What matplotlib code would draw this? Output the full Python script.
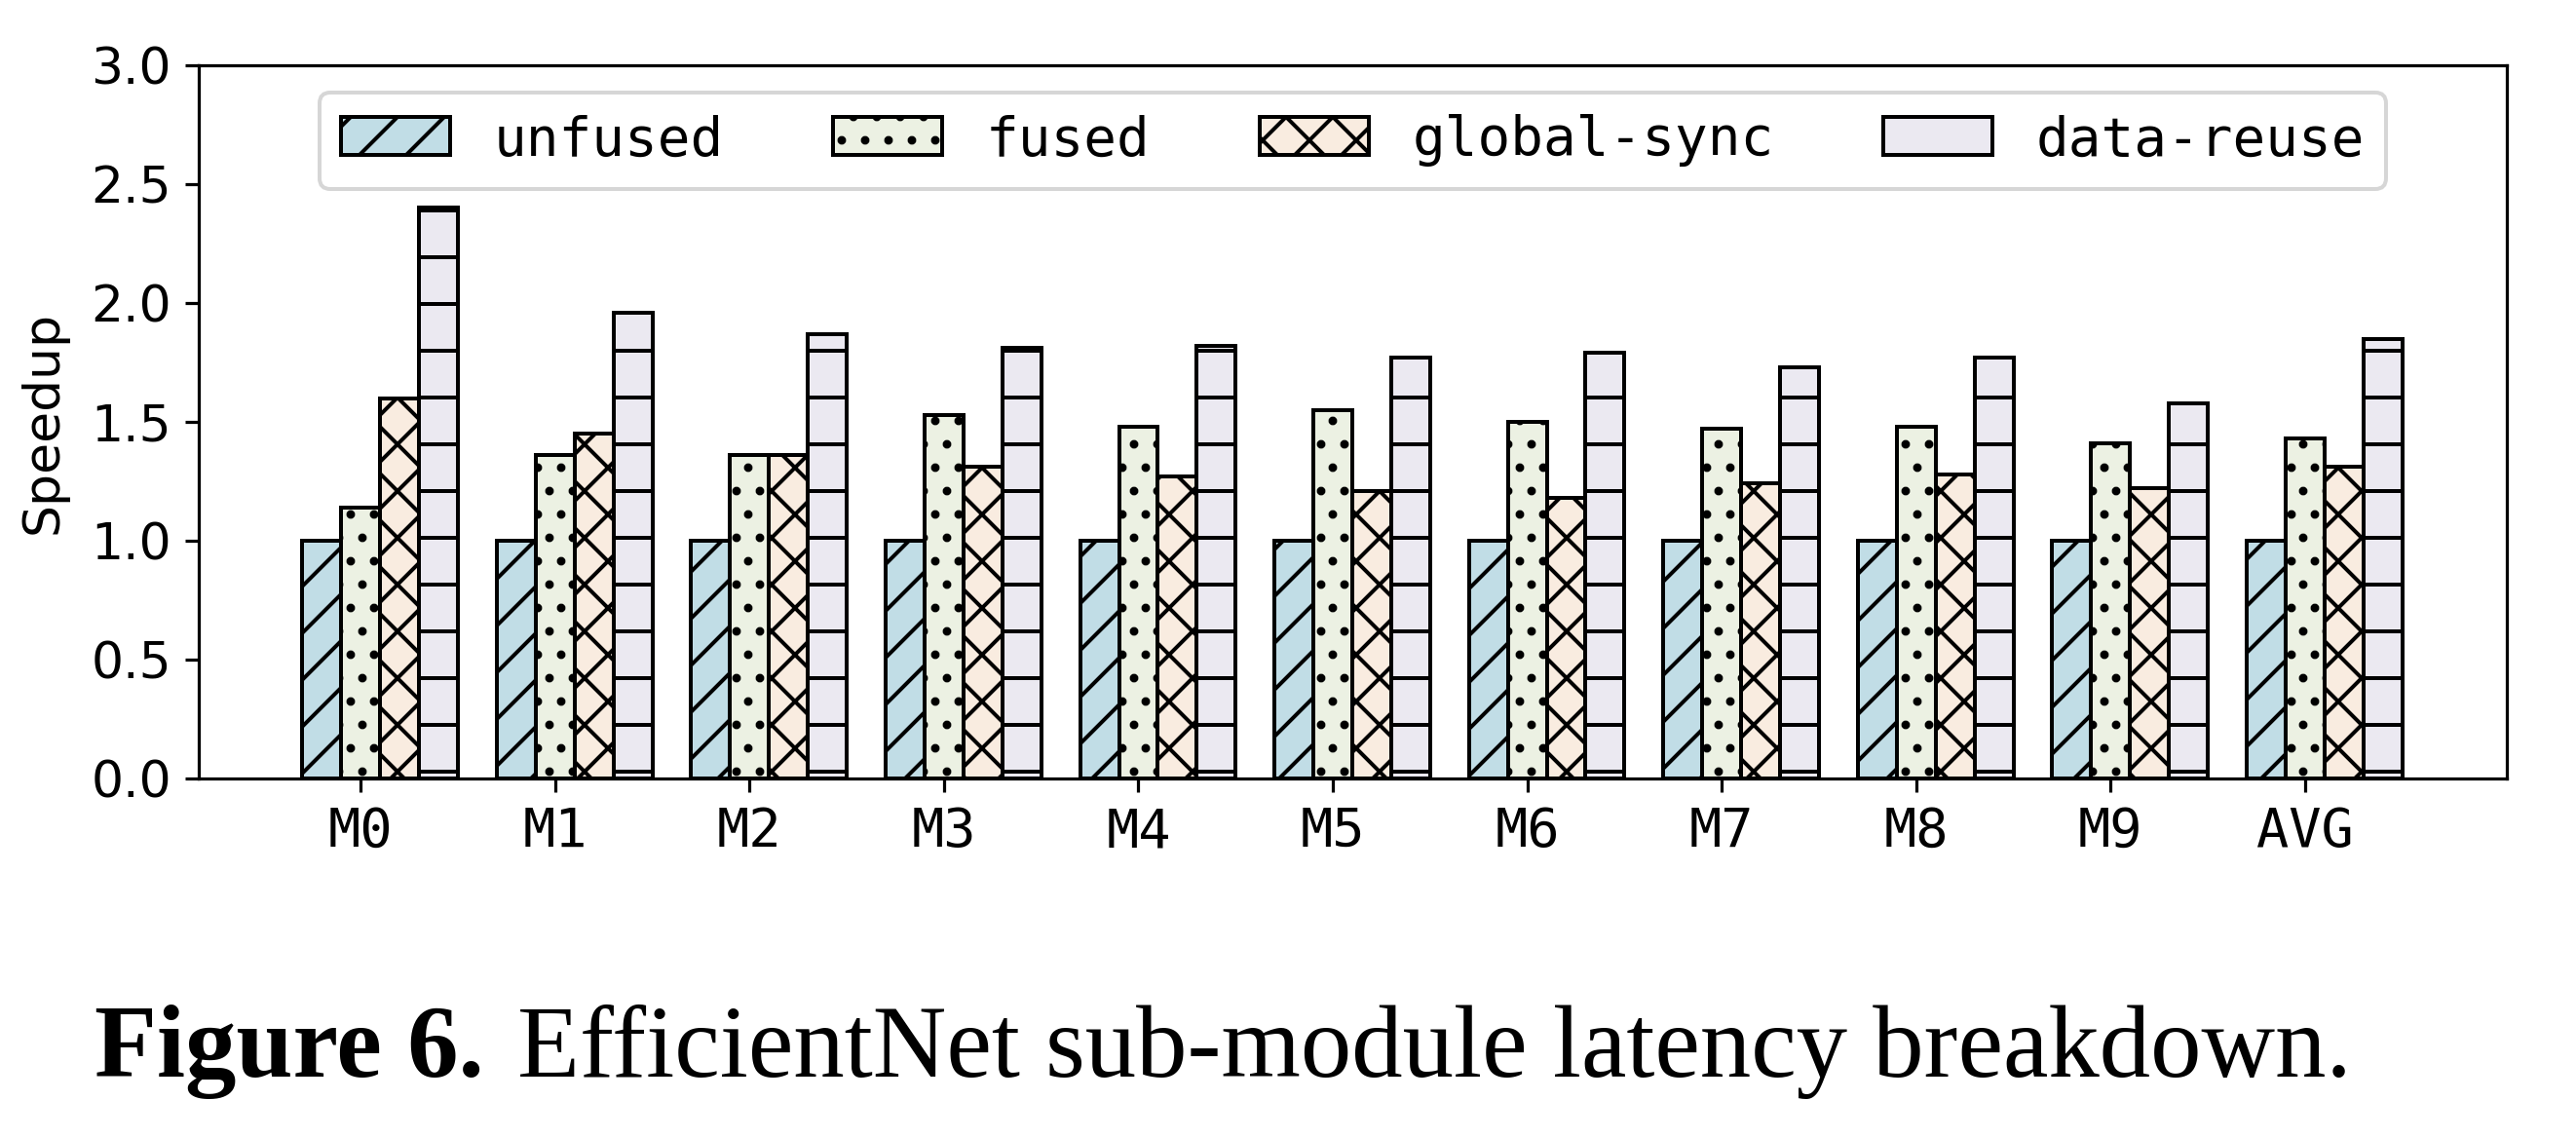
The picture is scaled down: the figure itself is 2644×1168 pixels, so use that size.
import numpy as np
import matplotlib
matplotlib.use('Agg')
import matplotlib.pyplot as plt

# DATA
modules     = ['M0', 'M1', 'M2', 'M3', 'M4', 'M5', 'M6', 'M7', 'M8', 'M9', 'AVG']
unfused     = [1.00, 1.00, 1.00, 1.00, 1.00, 1.00, 1.00, 1.00, 1.00, 1.00, 1.00]
fused       = [1.14, 1.36, 1.36, 1.53, 1.48, 1.55, 1.50, 1.47, 1.48, 1.41, 1.43]
global_sync = [1.60, 1.45, 1.36, 1.31, 1.27, 1.21, 1.18, 1.24, 1.28, 1.22, 1.31]
data_reuse  = [2.40, 1.96, 1.87, 1.81, 1.82, 1.77, 1.79, 1.73, 1.77, 1.58, 1.85]

series  = ['unfused', 'fused', 'global-sync', 'data-reuse']
values  = [unfused, fused, global_sync, data_reuse]
colors  = ['#c1dde6', '#ecf1e3', '#f9ece0', '#ebe9f1']
hatches = ['//', '..', 'xx', '-']

DPI = 288
fig = plt.figure(figsize=(2644 / DPI, 1168 / DPI), dpi=DPI)
ax = fig.add_axes([0.0772, 0.3159, 0.9731 - 0.0772, 0.9426 - 0.3159])

x = np.arange(len(modules))
width = 0.2
for i, (name, vals) in enumerate(zip(series, values)):
    ax.bar(x + (i - 1) * width, vals, width, label=name, color=colors[i],
           edgecolor='black', linewidth=1.0, hatch=hatches[i])

# AXES
ax.set_ylim(0, 3.0)
ax.set_yticks(np.arange(0, 3.01, 0.5))
ax.set_xlim(-0.832, 11.037)
ax.set_xticks(x)
ax.set_xticklabels(modules, family='DejaVu Sans Mono', fontsize=13.8)
ax.tick_params(axis='y', labelsize=13)
ax.set_ylabel('Speedup', fontsize=13, labelpad=6)

ax.legend(loc='upper center', ncol=4,
          prop={'family': 'DejaVu Sans Mono', 'size': 14})

# CAPTION
t1 = fig.text(97 / 2644, 1 - 1105 / 1168, 'Figure 6.', family='Liberation Serif',
              fontweight='bold', fontsize=26.2, va='baseline', ha='left')
fig.add_artist(plt.Annotation('EfficientNet sub-module latency breakdown.',
                              xy=(1, 0), xycoords=t1, xytext=(8.5, 0),
                              textcoords='offset points', va='bottom', ha='left',
                              family='Liberation Serif', fontsize=26.2))

fig.savefig('out.png', dpi=DPI)
